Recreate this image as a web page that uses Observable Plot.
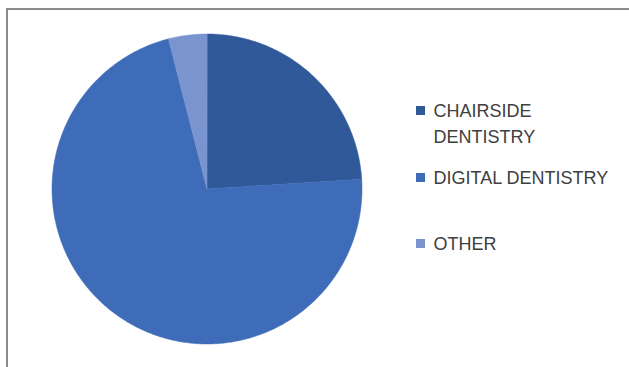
<!DOCTYPE html>
<html>
<head>
<meta charset="utf-8">
<script src="https://cdn.jsdelivr.net/npm/d3@7"></script>
<script src="https://cdn.jsdelivr.net/npm/@observablehq/plot@0.6"></script>
<style>
  html, body { margin: 0; padding: 0; background: #fff; }
  #wrap { position: relative; width: 629px; height: 367px; overflow: hidden; }
  #frame { position: absolute; left: 6px; top: 8px; width: 640px; height: 380px;
           border-top: 2px solid #8c8c8c; border-left: 2px solid #8c8c8c; box-sizing: border-box; }
  #legend { position: absolute; left: 416px; top: 0; font-family: "Liberation Sans", Arial, sans-serif;
            font-size: 18px; color: #404040; line-height: 26px; }
  .item { position: absolute; padding-left: 17.5px; white-space: nowrap; }
  .sw { position: absolute; left: 0; top: 8px; width: 9px; height: 9px; }
  svg { position: absolute; left: 0; top: 0; }
</style>
</head>
<body>
<div id="wrap"><div id="frame"></div><div id="legend"></div></div>
<script>
const categories = ["CHAIRSIDE DENTISTRY", "DIGITAL DENTISTRY", "OTHER"];
const values = [24, 72, 4];
const colors = ["#30599a", "#3f6cb9", "#7a94d0"];
const legendLines = [["CHAIRSIDE", "DENTISTRY"], ["DIGITAL DENTISTRY"], ["OTHER"]];

const arcs = d3.pie().sort(null)(values);
const rows = [];
arcs.forEach((a, i) => {
  const n = Math.max(2, Math.ceil((a.endAngle - a.startAngle) / 0.01));
  rows.push({cat: categories[i], x: 0, y: 0, k: 0});
  for (let j = 0; j <= n; j++) {
    const t = a.startAngle + (a.endAngle - a.startAngle) * j / n;
    rows.push({cat: categories[i], x: Math.sin(t), y: Math.cos(t), k: j + 1});
  }
});

const chart = Plot.plot({
  width: 629,
  height: 367,
  marginLeft: 51.5,
  marginRight: 267.5,
  marginTop: 33.5,
  marginBottom: 23.5,
  x: {domain: [-1, 1], axis: null},
  y: {domain: [-1, 1], axis: null},
  color: {domain: categories, range: colors},
  marks: [
    Plot.line(rows, {x: "x", y: "y", z: "cat", fill: "cat", stroke: "cat", strokeWidth: 0.5, curve: "linear-closed"})
  ]
});
document.getElementById("wrap").appendChild(chart);

const leg = document.getElementById("legend");
const tops = [97.8, 165.2, 230.5];
categories.forEach((c, i) => {
  const d = document.createElement("div");
  d.className = "item";
  d.style.top = tops[i] + "px";
  d.innerHTML = `<span class="sw" style="background:${colors[i]}"></span>` + legendLines[i].join("<br>");
  leg.appendChild(d);
});
</script>
</body>
</html>
